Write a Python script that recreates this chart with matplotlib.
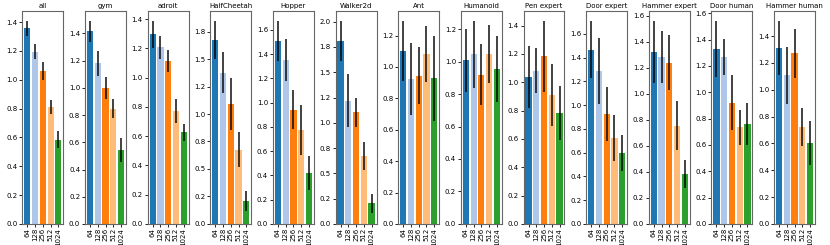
import numpy as np
import matplotlib
matplotlib.use("Agg")
import matplotlib.pyplot as plt
from matplotlib.ticker import FormatStrFormatter, MultipleLocator

sizes = ["64", "128", "256", "512", "1024"]
colors = ["#1f77b4", "#aec7e8", "#ff7f0e", "#ffbb78", "#2ca02c"]

tasks = ["all", "gym", "adroit", "HalfCheetah", "Hopper", "Walker2d", "Ant",
         "Humanoid", "Pen expert", "Door expert", "Hammer expert",
         "Door human", "Hammer human"]

# mean normalised score per batch size
means = {
    "all":           [1.358, 1.196, 1.059, 0.811, 0.584],
    "gym":           [1.415, 1.180, 0.996, 0.847, 0.543],
    "adroit":        [1.298, 1.207, 1.114, 0.772, 0.626],
    "HalfCheetah":   [1.674, 1.377, 1.089, 0.673, 0.206],
    "Hopper":        [1.507, 1.350, 0.943, 0.775, 0.421],
    "Walker2d":      [1.812, 1.219, 1.104, 0.669, 0.204],
    "Ant":           [1.102, 0.926, 0.945, 1.085, 0.928],
    "Humanoid":      [1.008, 1.045, 0.920, 1.047, 0.957],
    "Pen expert":    [1.035, 1.080, 1.184, 0.911, 0.784],
    "Door expert":   [1.468, 1.288, 0.929, 0.721, 0.598],
    "Hammer expert": [1.321, 1.282, 1.238, 0.754, 0.385],
    "Door human":    [1.329, 1.268, 0.922, 0.734, 0.759],
    "Hammer human":  [1.311, 1.107, 1.271, 0.722, 0.601],
}

# half-width of the error bars
errs = {
    "all":           [0.052, 0.049, 0.063, 0.049, 0.060],
    "gym":           [0.079, 0.093, 0.081, 0.071, 0.090],
    "adroit":        [0.092, 0.078, 0.078, 0.080, 0.057],
    "HalfCheetah":   [0.175, 0.183, 0.235, 0.159, 0.091],
    "Hopper":        [0.168, 0.173, 0.162, 0.205, 0.141],
    "Walker2d":      [0.198, 0.264, 0.142, 0.137, 0.092],
    "Ant":           [0.193, 0.229, 0.183, 0.179, 0.271],
    "Humanoid":      [0.193, 0.207, 0.190, 0.177, 0.203],
    "Pen expert":    [0.219, 0.158, 0.250, 0.218, 0.190],
    "Door expert":   [0.243, 0.280, 0.227, 0.195, 0.154],
    "Hammer expert": [0.241, 0.200, 0.212, 0.189, 0.109],
    "Door human":    [0.215, 0.136, 0.212, 0.132, 0.157],
    "Hammer human":  [0.204, 0.213, 0.181, 0.144, 0.163],
}

fig, axes = plt.subplots(1, len(tasks), figsize=(8.3, 2.45), dpi=100)
fig.subplots_adjust(left=0.027, right=0.982, top=0.957, bottom=0.086, wspace=0.53)

x = np.arange(len(sizes))
for ax, task in zip(axes, tasks):
    ax.bar(x, means[task], width=0.8, color=colors)
    ax.errorbar(x, means[task], yerr=errs[task], fmt="none",
                ecolor="black", elinewidth=1.3, alpha=0.8)
    ax.set_title(task, fontsize=5, pad=2)
    ax.set_xticks(x)
    ax.set_xticklabels(sizes, rotation=90, fontsize=5)
    ax.yaxis.set_major_formatter(FormatStrFormatter("%.1f"))
    ax.tick_params(axis="y", labelsize=5, length=2, width=0.6, pad=1.5)
    ax.tick_params(axis="x", length=2, width=0.6, pad=1)
    for s in ax.spines.values():
        s.set_color("#666666")
        s.set_linewidth(0.8)

fig.savefig("out.png", dpi=100)
